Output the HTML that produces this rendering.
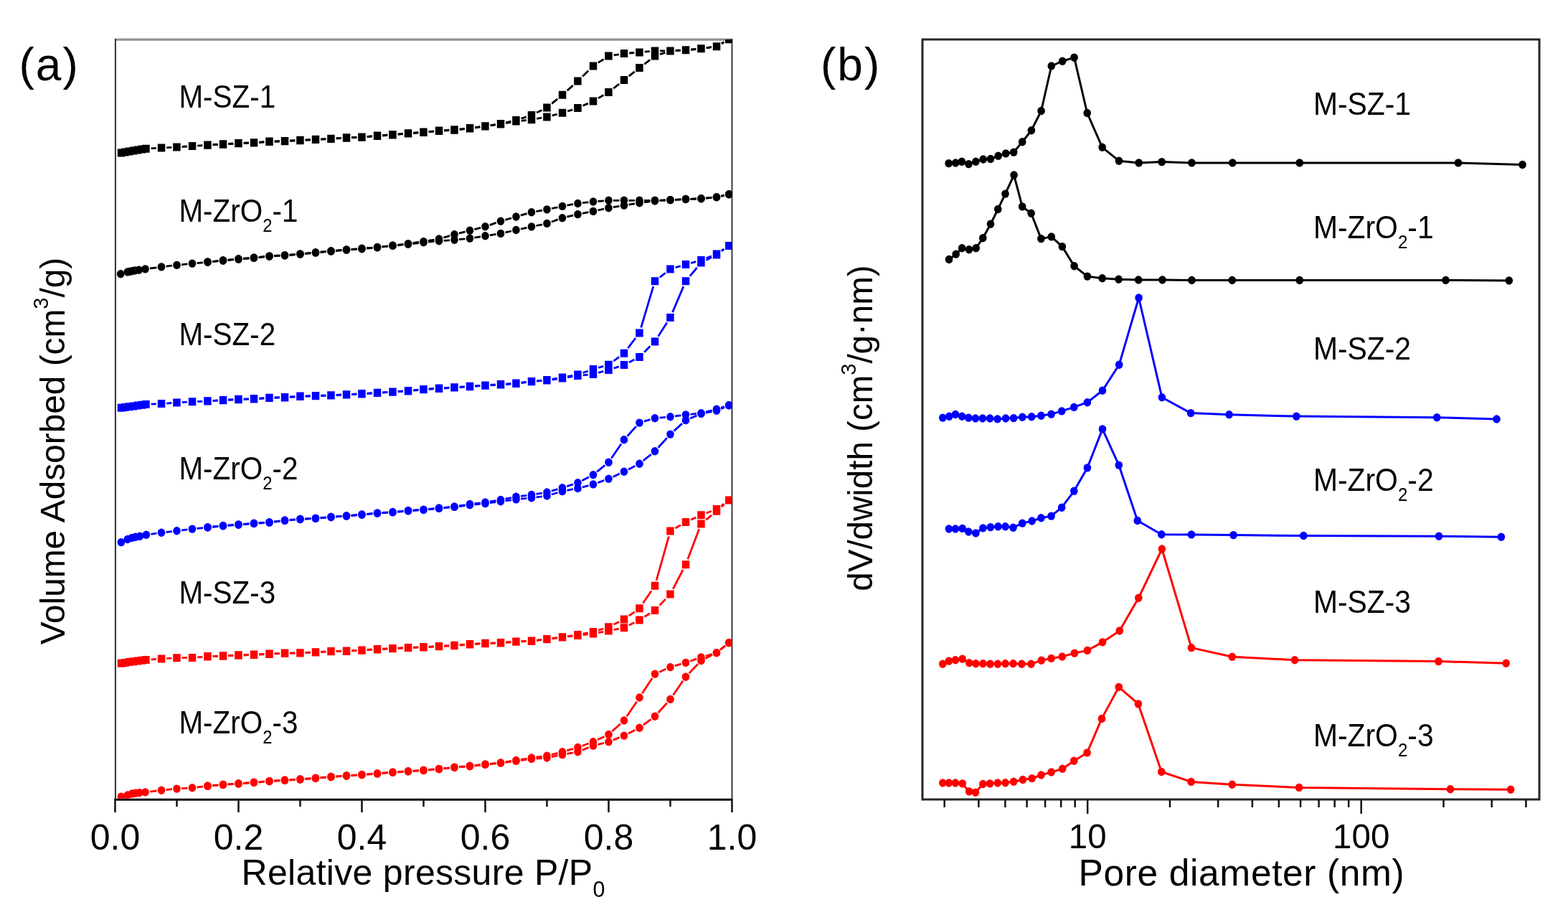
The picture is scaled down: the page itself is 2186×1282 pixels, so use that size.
<!DOCTYPE html>
<html><head><meta charset="utf-8"><title>Figure</title>
<style>html,body{margin:0;padding:0;background:#fff;}svg{display:block;}
text{font-family:"Liberation Sans", Arial, sans-serif;fill:#000;}</style></head>
<body>
<svg width="2186" height="1282" viewBox="0 0 2186 1282">
<rect width="2186" height="1282" fill="#fff"/>
<line x1="160.5" y1="55.2" x2="1020.5" y2="55.2" stroke="#929292" stroke-width="3.2"/>
<line x1="159.2" y1="55" x2="159.2" y2="1114" stroke="#e2e2e2" stroke-width="1"/>
<line x1="161.0" y1="54" x2="161.0" y2="1114" stroke="#3a3a3a" stroke-width="2"/>
<line x1="1020.5" y1="54" x2="1020.5" y2="1114" stroke="#3a3a3a" stroke-width="2"/>
<line x1="159.5" y1="1114.3" x2="1021.5" y2="1114.3" stroke="#0a0a0a" stroke-width="3"/>
<line x1="160.5" y1="1114" x2="160.5" y2="1132" stroke="#111" stroke-width="2.5"/>
<line x1="246.5" y1="1114" x2="246.5" y2="1124" stroke="#111" stroke-width="2.5"/>
<line x1="332.5" y1="1114" x2="332.5" y2="1132" stroke="#111" stroke-width="2.5"/>
<line x1="418.5" y1="1114" x2="418.5" y2="1124" stroke="#111" stroke-width="2.5"/>
<line x1="504.5" y1="1114" x2="504.5" y2="1132" stroke="#111" stroke-width="2.5"/>
<line x1="590.5" y1="1114" x2="590.5" y2="1124" stroke="#111" stroke-width="2.5"/>
<line x1="676.5" y1="1114" x2="676.5" y2="1132" stroke="#111" stroke-width="2.5"/>
<line x1="762.5" y1="1114" x2="762.5" y2="1124" stroke="#111" stroke-width="2.5"/>
<line x1="848.5" y1="1114" x2="848.5" y2="1132" stroke="#111" stroke-width="2.5"/>
<line x1="934.5" y1="1114" x2="934.5" y2="1124" stroke="#111" stroke-width="2.5"/>
<line x1="1020.5" y1="1114" x2="1020.5" y2="1132" stroke="#111" stroke-width="2.5"/>
<text x="160.5" y="1183.5" font-size="50" text-anchor="middle" >0.0</text>
<text x="332.5" y="1183.5" font-size="50" text-anchor="middle" >0.2</text>
<text x="504.5" y="1183.5" font-size="50" text-anchor="middle" >0.4</text>
<text x="676.5" y="1183.5" font-size="50" text-anchor="middle" >0.6</text>
<text x="848.5" y="1183.5" font-size="50" text-anchor="middle" >0.8</text>
<text x="1020.5" y="1183.5" font-size="50" text-anchor="middle" >1.0</text>
<text x="336.6" y="1232.5" font-size="50" text-anchor="start" letter-spacing="0.3">Relative pressure P/P<tspan font-size="30.5" dy="17">0</tspan></text>
<text transform="translate(90,898.3) rotate(-90)" font-size="47.8">Volume Adsorbed (cm<tspan font-size="29" dy="-23">3</tspan><tspan dy="23">/g)</tspan></text>
<text x="26.5" y="112" font-size="64" text-anchor="start" letter-spacing="2">(a)</text>
<rect x="1286" y="55" width="860" height="1059" fill="none" stroke="#262626" stroke-width="3"/>
<line x1="1316.7" y1="1114" x2="1316.7" y2="1125" stroke="#111" stroke-width="2.5"/>
<line x1="1364.4" y1="1114" x2="1364.4" y2="1125" stroke="#111" stroke-width="2.5"/>
<line x1="1401.4" y1="1114" x2="1401.4" y2="1125" stroke="#111" stroke-width="2.5"/>
<line x1="1431.6" y1="1114" x2="1431.6" y2="1125" stroke="#111" stroke-width="2.5"/>
<line x1="1457.1" y1="1114" x2="1457.1" y2="1125" stroke="#111" stroke-width="2.5"/>
<line x1="1479.2" y1="1114" x2="1479.2" y2="1125" stroke="#111" stroke-width="2.5"/>
<line x1="1498.7" y1="1114" x2="1498.7" y2="1125" stroke="#111" stroke-width="2.5"/>
<line x1="1516.2" y1="1114" x2="1516.2" y2="1134" stroke="#111" stroke-width="2.5"/>
<line x1="1631.0" y1="1114" x2="1631.0" y2="1125" stroke="#111" stroke-width="2.5"/>
<line x1="1698.2" y1="1114" x2="1698.2" y2="1125" stroke="#111" stroke-width="2.5"/>
<line x1="1745.9" y1="1114" x2="1745.9" y2="1125" stroke="#111" stroke-width="2.5"/>
<line x1="1782.9" y1="1114" x2="1782.9" y2="1125" stroke="#111" stroke-width="2.5"/>
<line x1="1813.1" y1="1114" x2="1813.1" y2="1125" stroke="#111" stroke-width="2.5"/>
<line x1="1838.6" y1="1114" x2="1838.6" y2="1125" stroke="#111" stroke-width="2.5"/>
<line x1="1860.7" y1="1114" x2="1860.7" y2="1125" stroke="#111" stroke-width="2.5"/>
<line x1="1880.2" y1="1114" x2="1880.2" y2="1125" stroke="#111" stroke-width="2.5"/>
<line x1="1897.7" y1="1114" x2="1897.7" y2="1134" stroke="#111" stroke-width="2.5"/>
<line x1="2012.5" y1="1114" x2="2012.5" y2="1125" stroke="#111" stroke-width="2.5"/>
<line x1="2079.7" y1="1114" x2="2079.7" y2="1125" stroke="#111" stroke-width="2.5"/>
<line x1="2127.4" y1="1114" x2="2127.4" y2="1125" stroke="#111" stroke-width="2.5"/>
<text x="1516.2" y="1182" font-size="47.5" text-anchor="middle" >10</text>
<text x="1897.7" y="1182" font-size="47.5" text-anchor="middle" >100</text>
<text x="1503.6" y="1233.8" font-size="51.5" text-anchor="start" letter-spacing="0.62">Pore diameter (nm)</text>
<text transform="translate(1216,823.7) rotate(-90)" font-size="47.5">dV/dwidth (cm<tspan font-size="29" dy="-23.5">3</tspan><tspan dy="23.5">/g·nm)</tspan></text>
<text x="1144" y="112" font-size="64" text-anchor="start" letter-spacing="2">(b)</text>
<defs><clipPath id="ca"><rect x="160.5" y="55" width="860.0" height="1057.8"/></clipPath><clipPath id="cb"><rect x="1286" y="55" width="860" height="1057.5"/></clipPath></defs>
<g clip-path="url(#ca)">
<path d="M210.7,206.9 L217.8,206.4 M232.2,205.6 L239.3,205.3 M253.7,204.5 L260.8,204.0 M275.2,203.2 L282.3,202.7 M296.7,201.9 L303.8,201.6 M318.2,200.7 L325.3,200.3 M339.7,199.6 L346.8,199.3 M361.2,198.6 L368.3,198.0 M382.7,197.3 L389.8,197.0 M404.2,196.4 L411.3,196.1 M425.7,195.3 L432.8,195.0 M447.2,194.3 L454.3,193.9 M468.7,193.1 L475.8,192.7 M490.2,191.9 L497.3,191.6 M511.7,190.7 L518.8,190.1 M533.2,189.0 L540.3,188.4 M554.7,187.3 L561.8,186.7 M576.2,185.6 L583.3,185.0 M597.7,183.8 L604.8,183.2 M619.2,182.1 L626.3,181.6 M640.7,180.5 L647.8,179.7 M662.2,178.0 L669.3,176.9 M683.7,174.9 L690.8,173.9 M705.2,171.6 L712.3,170.4 M726.7,168.3 L733.8,167.5 M748.2,165.4 L755.3,164.2 M769.7,161.0 L776.8,159.2 M791.2,155.0 L798.3,152.8 M812.6,147.3 L819.9,144.1 M834.0,136.9 L841.5,132.5 M855.3,123.1 L863.2,117.0 M876.8,106.2 L884.7,99.9 M898.3,89.3 L906.2,83.3 M920.1,75.7 L927.4,73.3 M941.7,70.5 L948.8,70.2 M963.2,69.1 L970.3,68.5 M984.7,66.8 L991.8,65.7 M1006.0,60.7 L1009.2,58.8" fill="none" stroke="#000" stroke-width="2.8"/>
<path d="M1009.2,58.8 L1006.0,60.7 M991.8,65.7 L984.7,66.8 M970.3,68.5 L963.2,69.1 M948.8,70.2 L941.7,70.5 M927.2,70.9 L920.2,70.9 M905.8,71.6 L898.7,72.2 M884.3,73.5 L877.2,74.0 M862.8,75.8 L855.7,76.9 M841.6,82.6 L833.9,87.4 M820.3,98.5 L812.2,106.5 M798.8,119.1 L790.7,126.2 M777.2,137.9 L769.3,144.4 M755.4,153.5 L748.1,157.0 M733.9,162.8 L726.6,165.2 M712.3,169.2 L705.2,170.9 M690.8,173.6 L683.7,174.6 M669.3,176.7 L662.2,177.6 M647.8,179.3 L640.7,180.1 M626.3,181.2 L619.2,181.7 M604.8,182.8 L597.7,183.4 M583.3,184.6 L576.2,185.2 M561.8,186.3 L554.7,186.9 M540.3,188.0 L533.2,188.6 M518.8,189.7 L511.7,190.3 M497.3,191.2 L490.2,191.5 M475.8,192.3 L468.7,192.7 M454.3,193.5 L447.2,193.9 M432.8,194.6 L425.7,194.9 M411.3,195.7 L404.2,196.0 M389.8,196.6 L382.7,196.9 M368.3,197.6 L361.2,198.2 M346.8,198.9 L339.7,199.2 M325.3,199.9 L318.2,200.3 M303.8,201.2 L296.7,201.5" fill="none" stroke="#000" stroke-width="2.8"/>
<path d="M163.8,207.5h10.5v11.0h-10.5zM169.2,206.5h10.5v11.0h-10.5zM174.8,205.5h10.5v11.0h-10.5zM180.8,204.5h10.5v11.0h-10.5zM186.8,203.5h10.5v11.0h-10.5zM192.8,202.6h10.5v11.0h-10.5zM198.2,201.8h10.5v11.0h-10.5zM219.8,200.5h10.5v11.0h-10.5zM241.2,199.4h10.5v11.0h-10.5zM262.8,198.1h10.5v11.0h-10.5zM284.2,196.8h10.5v11.0h-10.5zM305.8,195.7h10.5v11.0h-10.5zM327.2,194.3h10.5v11.0h-10.5zM348.8,193.6h10.5v11.0h-10.5zM370.2,192.0h10.5v11.0h-10.5zM391.8,191.3h10.5v11.0h-10.5zM413.2,190.2h10.5v11.0h-10.5zM434.8,189.1h10.5v11.0h-10.5zM456.2,188.1h10.5v11.0h-10.5zM477.8,186.7h10.5v11.0h-10.5zM499.2,185.8h10.5v11.0h-10.5zM520.8,184.0h10.5v11.0h-10.5zM542.2,182.4h10.5v11.0h-10.5zM563.8,180.6h10.5v11.0h-10.5zM585.2,179.0h10.5v11.0h-10.5zM606.8,177.0h10.5v11.0h-10.5zM628.2,175.7h10.5v11.0h-10.5zM649.8,173.5h10.5v11.0h-10.5zM671.2,170.4h10.5v11.0h-10.5zM692.8,167.4h10.5v11.0h-10.5zM714.2,163.6h10.5v11.0h-10.5zM735.8,161.2h10.5v11.0h-10.5zM757.2,157.4h10.5v11.0h-10.5zM778.8,151.8h10.5v11.0h-10.5zM800.2,145.0h10.5v11.0h-10.5zM821.8,135.4h10.5v11.0h-10.5zM843.2,123.0h10.5v11.0h-10.5zM864.8,106.1h10.5v11.0h-10.5zM886.2,89.0h10.5v11.0h-10.5zM907.8,72.6h10.5v11.0h-10.5zM929.2,65.4h10.5v11.0h-10.5zM950.8,64.3h10.5v11.0h-10.5zM972.2,62.3h10.5v11.0h-10.5zM993.8,59.2h10.5v11.0h-10.5zM1011.0,49.3h10.5v11.0h-10.5zM1011.0,49.3h10.5v11.0h-10.5zM993.8,59.2h10.5v11.0h-10.5zM972.2,62.3h10.5v11.0h-10.5zM950.8,64.3h10.5v11.0h-10.5zM929.2,65.4h10.5v11.0h-10.5zM907.8,65.4h10.5v11.0h-10.5zM886.2,67.4h10.5v11.0h-10.5zM864.8,69.1h10.5v11.0h-10.5zM843.2,72.6h10.5v11.0h-10.5zM821.8,86.4h10.5v11.0h-10.5zM800.2,107.6h10.5v11.0h-10.5zM778.8,126.7h10.5v11.0h-10.5zM757.2,144.6h10.5v11.0h-10.5zM735.8,154.9h10.5v11.0h-10.5zM714.2,162.1h10.5v11.0h-10.5zM692.8,167.0h10.5v11.0h-10.5zM671.2,170.2h10.5v11.0h-10.5zM649.8,173.1h10.5v11.0h-10.5zM628.2,175.3h10.5v11.0h-10.5zM606.8,176.6h10.5v11.0h-10.5zM585.2,178.6h10.5v11.0h-10.5zM563.8,180.2h10.5v11.0h-10.5zM542.2,182.0h10.5v11.0h-10.5zM520.8,183.6h10.5v11.0h-10.5zM499.2,185.4h10.5v11.0h-10.5zM477.8,186.3h10.5v11.0h-10.5zM456.2,187.7h10.5v11.0h-10.5zM434.8,188.7h10.5v11.0h-10.5zM413.2,189.8h10.5v11.0h-10.5zM391.8,190.9h10.5v11.0h-10.5zM370.2,191.6h10.5v11.0h-10.5zM348.8,193.2h10.5v11.0h-10.5zM327.2,193.9h10.5v11.0h-10.5zM305.8,195.3h10.5v11.0h-10.5zM284.2,196.4h10.5v11.0h-10.5z" fill="#000"/>
<path d="M209.0,374.0 L218.5,372.8 M231.6,371.1 L239.9,370.2 M253.1,368.8 L261.4,367.9 M274.6,366.7 L282.9,365.9 M296.1,364.7 L304.4,363.8 M317.6,362.6 L325.9,361.8 M339.1,360.6 L347.4,360.0 M360.6,358.8 L368.9,357.9 M382.1,356.9 L390.4,356.4 M403.6,355.5 L411.9,354.8 M425.1,353.6 L433.4,352.8 M446.6,351.5 L454.9,350.7 M468.1,349.5 L476.4,348.9 M489.6,347.8 L497.9,347.2 M511.1,346.1 L519.4,345.5 M532.6,344.1 L540.9,343.2 M554.1,341.8 L562.4,340.9 M575.6,339.5 L583.9,338.6 M597.1,337.2 L605.4,336.4 M618.6,335.3 L626.9,334.8 M640.1,333.7 L648.4,332.8 M661.5,331.2 L670.0,329.8 M683.0,327.8 L691.5,326.4 M704.5,323.9 L713.0,322.0 M726.0,319.1 L734.5,317.3 M747.5,314.5 L756.0,312.8 M768.8,309.2 L777.7,305.9 M790.4,302.2 L799.1,300.1 M812.0,297.3 L820.5,295.7 M833.5,293.0 L842.0,291.2 M855.0,288.7 L863.5,287.4 M876.5,285.2 L885.0,283.9 M898.1,281.9 L906.4,280.9 M919.6,279.6 L927.9,279.0 M941.1,278.3 L949.4,277.8 M962.6,277.3 L970.9,277.0 M984.1,276.2 L992.4,275.4 M1005.4,273.3 L1009.8,272.2" fill="none" stroke="#000" stroke-width="2.8"/>
<path d="M1009.8,272.2 L1005.4,273.3 M992.4,275.4 L984.1,276.2 M970.9,277.0 L962.6,277.3 M949.4,277.8 L941.1,278.3 M927.9,278.8 L919.6,279.1 M906.4,279.3 L898.1,279.3 M884.9,279.3 L876.6,279.3 M863.4,279.3 L855.1,279.3 M841.9,279.8 L833.6,280.5 M820.4,281.8 L812.1,282.7 M799.0,284.7 L790.5,286.2 M777.5,288.8 L769.0,290.5 M756.0,293.1 L747.5,294.6 M734.6,297.6 L725.9,300.2 M713.1,303.8 L704.4,306.4 M691.7,310.4 L682.8,313.6 M670.1,317.4 L661.4,319.7 M648.6,322.9 L639.9,325.2 M627.1,328.6 L618.4,331.2 M605.5,334.1 L597.0,335.5 M584.0,337.5 L575.5,338.7 M562.4,340.3 L554.1,341.3 M540.9,342.8 L532.6,343.7 M519.4,345.1 L511.1,345.7 M497.9,346.8 L489.6,347.4 M476.4,348.5 L468.1,349.1 M454.9,350.3 L446.6,351.1 M433.4,352.4 L425.1,353.2 M411.9,354.4 L403.6,355.1 M390.4,356.0 L382.1,356.5 M368.9,357.5 L360.6,358.4 M347.4,359.6 L339.1,360.2 M325.9,361.4 L317.6,362.2 M304.4,363.4 L296.1,364.3" fill="none" stroke="#000" stroke-width="2.8"/>
<ellipse cx="168.2" cy="381.8" rx="5.3" ry="5.7" fill="#000"/><ellipse cx="177.8" cy="379.0" rx="5.3" ry="5.7" fill="#000"/><ellipse cx="181.0" cy="378.4" rx="5.3" ry="5.7" fill="#000"/><ellipse cx="184.0" cy="377.6" rx="5.3" ry="5.7" fill="#000"/><ellipse cx="188.0" cy="377.0" rx="5.3" ry="5.7" fill="#000"/><ellipse cx="193.6" cy="376.3" rx="5.3" ry="5.7" fill="#000"/><ellipse cx="202.5" cy="374.9" rx="5.3" ry="5.7" fill="#000"/><ellipse cx="225.0" cy="371.9" rx="5.3" ry="5.7" fill="#000"/><ellipse cx="246.5" cy="369.4" rx="5.3" ry="5.7" fill="#000"/><ellipse cx="268.0" cy="367.3" rx="5.3" ry="5.7" fill="#000"/><ellipse cx="289.5" cy="365.3" rx="5.3" ry="5.7" fill="#000"/><ellipse cx="311.0" cy="363.2" rx="5.3" ry="5.7" fill="#000"/><ellipse cx="332.5" cy="361.2" rx="5.3" ry="5.7" fill="#000"/><ellipse cx="354.0" cy="359.4" rx="5.3" ry="5.7" fill="#000"/><ellipse cx="375.5" cy="357.3" rx="5.3" ry="5.7" fill="#000"/><ellipse cx="397.0" cy="356.0" rx="5.3" ry="5.7" fill="#000"/><ellipse cx="418.5" cy="354.3" rx="5.3" ry="5.7" fill="#000"/><ellipse cx="440.0" cy="352.1" rx="5.3" ry="5.7" fill="#000"/><ellipse cx="461.5" cy="350.1" rx="5.3" ry="5.7" fill="#000"/><ellipse cx="483.0" cy="348.3" rx="5.3" ry="5.7" fill="#000"/><ellipse cx="504.5" cy="346.7" rx="5.3" ry="5.7" fill="#000"/><ellipse cx="526.0" cy="344.9" rx="5.3" ry="5.7" fill="#000"/><ellipse cx="547.5" cy="342.4" rx="5.3" ry="5.7" fill="#000"/><ellipse cx="569.0" cy="340.3" rx="5.3" ry="5.7" fill="#000"/><ellipse cx="590.5" cy="337.8" rx="5.3" ry="5.7" fill="#000"/><ellipse cx="612.0" cy="335.8" rx="5.3" ry="5.7" fill="#000"/><ellipse cx="633.5" cy="334.3" rx="5.3" ry="5.7" fill="#000"/><ellipse cx="655.0" cy="332.2" rx="5.3" ry="5.7" fill="#000"/><ellipse cx="676.5" cy="328.8" rx="5.3" ry="5.7" fill="#000"/><ellipse cx="698.0" cy="325.4" rx="5.3" ry="5.7" fill="#000"/><ellipse cx="719.5" cy="320.5" rx="5.3" ry="5.7" fill="#000"/><ellipse cx="741.0" cy="315.9" rx="5.3" ry="5.7" fill="#000"/><ellipse cx="762.5" cy="311.4" rx="5.3" ry="5.7" fill="#000"/><ellipse cx="784.0" cy="303.7" rx="5.3" ry="5.7" fill="#000"/><ellipse cx="805.5" cy="298.6" rx="5.3" ry="5.7" fill="#000"/><ellipse cx="827.0" cy="294.4" rx="5.3" ry="5.7" fill="#000"/><ellipse cx="848.5" cy="289.8" rx="5.3" ry="5.7" fill="#000"/><ellipse cx="870.0" cy="286.3" rx="5.3" ry="5.7" fill="#000"/><ellipse cx="891.5" cy="282.8" rx="5.3" ry="5.7" fill="#000"/><ellipse cx="913.0" cy="280.0" rx="5.3" ry="5.7" fill="#000"/><ellipse cx="934.5" cy="278.6" rx="5.3" ry="5.7" fill="#000"/><ellipse cx="956.0" cy="277.5" rx="5.3" ry="5.7" fill="#000"/><ellipse cx="977.5" cy="276.8" rx="5.3" ry="5.7" fill="#000"/><ellipse cx="999.0" cy="274.8" rx="5.3" ry="5.7" fill="#000"/><ellipse cx="1016.2" cy="270.7" rx="5.3" ry="5.7" fill="#000"/><ellipse cx="1016.2" cy="270.7" rx="5.3" ry="5.7" fill="#000"/><ellipse cx="999.0" cy="274.8" rx="5.3" ry="5.7" fill="#000"/><ellipse cx="977.5" cy="276.8" rx="5.3" ry="5.7" fill="#000"/><ellipse cx="956.0" cy="277.5" rx="5.3" ry="5.7" fill="#000"/><ellipse cx="934.5" cy="278.6" rx="5.3" ry="5.7" fill="#000"/><ellipse cx="913.0" cy="279.3" rx="5.3" ry="5.7" fill="#000"/><ellipse cx="891.5" cy="279.3" rx="5.3" ry="5.7" fill="#000"/><ellipse cx="870.0" cy="279.3" rx="5.3" ry="5.7" fill="#000"/><ellipse cx="848.5" cy="279.3" rx="5.3" ry="5.7" fill="#000"/><ellipse cx="827.0" cy="281.0" rx="5.3" ry="5.7" fill="#000"/><ellipse cx="805.5" cy="283.5" rx="5.3" ry="5.7" fill="#000"/><ellipse cx="784.0" cy="287.4" rx="5.3" ry="5.7" fill="#000"/><ellipse cx="762.5" cy="291.9" rx="5.3" ry="5.7" fill="#000"/><ellipse cx="741.0" cy="295.8" rx="5.3" ry="5.7" fill="#000"/><ellipse cx="719.5" cy="302.0" rx="5.3" ry="5.7" fill="#000"/><ellipse cx="698.0" cy="308.2" rx="5.3" ry="5.7" fill="#000"/><ellipse cx="676.5" cy="315.8" rx="5.3" ry="5.7" fill="#000"/><ellipse cx="655.0" cy="321.3" rx="5.3" ry="5.7" fill="#000"/><ellipse cx="633.5" cy="326.8" rx="5.3" ry="5.7" fill="#000"/><ellipse cx="612.0" cy="333.0" rx="5.3" ry="5.7" fill="#000"/><ellipse cx="590.5" cy="336.6" rx="5.3" ry="5.7" fill="#000"/><ellipse cx="569.0" cy="339.6" rx="5.3" ry="5.7" fill="#000"/><ellipse cx="547.5" cy="342.0" rx="5.3" ry="5.7" fill="#000"/><ellipse cx="526.0" cy="344.5" rx="5.3" ry="5.7" fill="#000"/><ellipse cx="504.5" cy="346.3" rx="5.3" ry="5.7" fill="#000"/><ellipse cx="483.0" cy="347.9" rx="5.3" ry="5.7" fill="#000"/><ellipse cx="461.5" cy="349.7" rx="5.3" ry="5.7" fill="#000"/><ellipse cx="440.0" cy="351.7" rx="5.3" ry="5.7" fill="#000"/><ellipse cx="418.5" cy="353.9" rx="5.3" ry="5.7" fill="#000"/><ellipse cx="397.0" cy="355.6" rx="5.3" ry="5.7" fill="#000"/><ellipse cx="375.5" cy="356.9" rx="5.3" ry="5.7" fill="#000"/><ellipse cx="354.0" cy="359.0" rx="5.3" ry="5.7" fill="#000"/><ellipse cx="332.5" cy="360.8" rx="5.3" ry="5.7" fill="#000"/><ellipse cx="311.0" cy="362.8" rx="5.3" ry="5.7" fill="#000"/><ellipse cx="289.5" cy="364.9" rx="5.3" ry="5.7" fill="#000"/>
<path d="M210.7,563.2 L217.8,562.9 M232.2,562.1 L239.3,561.5 M253.7,560.6 L260.8,560.1 M275.2,559.5 L282.3,559.3 M296.7,558.7 L303.8,558.2 M318.2,557.4 L325.3,557.1 M339.7,556.5 L346.8,556.2 M361.2,555.5 L368.3,555.1 M382.7,554.4 L389.8,554.1 M404.2,553.4 L411.3,553.0 M425.7,552.3 L432.8,552.0 M447.2,551.6 L454.3,551.3 M468.7,550.8 L475.8,550.4 M490.2,549.7 L497.3,549.4 M511.7,548.5 L518.8,548.1 M533.2,547.2 L540.3,546.7 M554.7,545.8 L561.8,545.4 M576.2,544.2 L583.3,543.5 M597.7,542.4 L604.8,541.9 M619.2,541.0 L626.3,540.6 M640.7,539.6 L647.8,539.2 M662.2,538.2 L669.3,537.8 M683.7,536.9 L690.8,536.4 M705.2,535.5 L712.3,535.0 M726.7,533.6 L733.8,532.7 M748.2,531.2 L755.3,530.6 M769.7,529.0 L776.8,528.0 M791.2,525.8 L798.3,524.7 M812.7,522.8 L819.8,522.1 M834.2,519.4 L841.3,517.4 M855.7,513.1 L862.8,510.8 M877.0,504.9 L884.5,501.0 M898.2,490.7 L906.3,482.6 M917.6,468.7 L929.9,449.6 M937.6,435.1 L952.9,399.1 M961.9,384.8 L971.6,373.0 M984.5,362.4 L992.0,358.5 M1005.9,349.9 L1009.3,347.4" fill="none" stroke="#00f" stroke-width="2.8"/>
<path d="M1009.3,347.1 L1005.9,349.3 M991.9,356.8 L984.6,359.8 M970.3,364.6 L963.2,366.6 M948.8,370.7 L941.7,372.9 M927.7,380.3 L919.8,386.5 M910.8,399.2 L893.7,456.5 M886.1,471.0 L875.4,485.1 M863.1,497.3 L855.4,503.1 M841.3,510.3 L834.2,512.4 M819.9,517.0 L812.6,519.5 M798.3,523.3 L791.2,524.7 M776.8,527.2 L769.7,528.4 M755.3,530.2 L748.2,530.8 M733.8,532.3 L726.7,533.2 M712.3,534.6 L705.2,535.1 M690.8,536.0 L683.7,536.5 M669.3,537.4 L662.2,537.8 M647.8,538.8 L640.7,539.2 M626.3,540.2 L619.2,540.6 M604.8,541.5 L597.7,542.0 M583.3,543.1 L576.2,543.8 M561.8,545.0 L554.7,545.4 M540.3,546.3 L533.2,546.8 M518.8,547.7 L511.7,548.1 M497.3,549.0 L490.2,549.3 M475.8,550.0 L468.7,550.4 M454.3,550.9 L447.2,551.2 M432.8,551.6 L425.7,551.9 M411.3,552.6 L404.2,553.0 M389.8,553.7 L382.7,554.0 M368.3,554.7 L361.2,555.1 M346.8,555.8 L339.7,556.1 M325.3,556.7 L318.2,557.0 M303.8,557.8 L296.7,558.3" fill="none" stroke="#00f" stroke-width="2.8"/>
<path d="M163.8,562.8h10.5v11.0h-10.5zM169.2,562.0h10.5v11.0h-10.5zM174.8,561.2h10.5v11.0h-10.5zM180.8,560.4h10.5v11.0h-10.5zM186.8,559.6h10.5v11.0h-10.5zM192.8,558.8h10.5v11.0h-10.5zM198.2,558.0h10.5v11.0h-10.5zM219.8,557.1h10.5v11.0h-10.5zM241.2,555.5h10.5v11.0h-10.5zM262.8,554.2h10.5v11.0h-10.5zM284.2,553.6h10.5v11.0h-10.5zM305.8,552.3h10.5v11.0h-10.5zM327.2,551.2h10.5v11.0h-10.5zM348.8,550.5h10.5v11.0h-10.5zM370.2,549.1h10.5v11.0h-10.5zM391.8,548.4h10.5v11.0h-10.5zM413.2,547.0h10.5v11.0h-10.5zM434.8,546.3h10.5v11.0h-10.5zM456.2,545.6h10.5v11.0h-10.5zM477.8,544.6h10.5v11.0h-10.5zM499.2,543.5h10.5v11.0h-10.5zM520.8,542.1h10.5v11.0h-10.5zM542.2,540.8h10.5v11.0h-10.5zM563.8,539.4h10.5v11.0h-10.5zM585.2,537.3h10.5v11.0h-10.5zM606.8,536.0h10.5v11.0h-10.5zM628.2,534.6h10.5v11.0h-10.5zM649.8,533.2h10.5v11.0h-10.5zM671.2,531.8h10.5v11.0h-10.5zM692.8,530.5h10.5v11.0h-10.5zM714.2,529.0h10.5v11.0h-10.5zM735.8,526.3h10.5v11.0h-10.5zM757.2,524.5h10.5v11.0h-10.5zM778.8,521.5h10.5v11.0h-10.5zM800.2,518.0h10.5v11.0h-10.5zM821.8,515.9h10.5v11.0h-10.5zM843.2,509.9h10.5v11.0h-10.5zM864.8,503.0h10.5v11.0h-10.5zM886.2,491.9h10.5v11.0h-10.5zM907.8,470.4h10.5v11.0h-10.5zM929.2,436.9h10.5v11.0h-10.5zM950.8,386.3h10.5v11.0h-10.5zM972.2,360.5h10.5v11.0h-10.5zM993.8,349.4h10.5v11.0h-10.5zM1011.0,336.9h10.5v11.0h-10.5zM1011.0,336.9h10.5v11.0h-10.5zM993.8,348.5h10.5v11.0h-10.5zM972.2,357.1h10.5v11.0h-10.5zM950.8,363.1h10.5v11.0h-10.5zM929.2,369.5h10.5v11.0h-10.5zM907.8,386.3h10.5v11.0h-10.5zM886.2,458.4h10.5v11.0h-10.5zM864.8,486.7h10.5v11.0h-10.5zM843.2,502.7h10.5v11.0h-10.5zM821.8,509.0h10.5v11.0h-10.5zM800.2,516.5h10.5v11.0h-10.5zM778.8,520.5h10.5v11.0h-10.5zM757.2,524.1h10.5v11.0h-10.5zM735.8,525.9h10.5v11.0h-10.5zM714.2,528.6h10.5v11.0h-10.5zM692.8,530.1h10.5v11.0h-10.5zM671.2,531.4h10.5v11.0h-10.5zM649.8,532.8h10.5v11.0h-10.5zM628.2,534.2h10.5v11.0h-10.5zM606.8,535.6h10.5v11.0h-10.5zM585.2,536.9h10.5v11.0h-10.5zM563.8,539.0h10.5v11.0h-10.5zM542.2,540.4h10.5v11.0h-10.5zM520.8,541.7h10.5v11.0h-10.5zM499.2,543.1h10.5v11.0h-10.5zM477.8,544.2h10.5v11.0h-10.5zM456.2,545.2h10.5v11.0h-10.5zM434.8,545.9h10.5v11.0h-10.5zM413.2,546.6h10.5v11.0h-10.5zM391.8,548.0h10.5v11.0h-10.5zM370.2,548.7h10.5v11.0h-10.5zM348.8,550.1h10.5v11.0h-10.5zM327.2,550.8h10.5v11.0h-10.5zM305.8,551.9h10.5v11.0h-10.5zM284.2,553.2h10.5v11.0h-10.5z" fill="#00f"/>
<path d="M210.4,744.4 L218.5,743.2 M231.6,741.5 L239.9,740.6 M253.1,739.0 L261.4,737.9 M274.6,736.5 L282.9,735.6 M296.1,734.4 L304.4,733.5 M317.6,732.4 L325.9,731.8 M339.1,730.7 L347.4,730.1 M360.6,729.1 L368.9,728.5 M382.1,727.3 L390.4,726.2 M403.6,724.8 L411.9,724.2 M425.1,723.3 L433.4,722.8 M446.6,721.9 L454.9,721.3 M468.1,720.2 L476.4,719.6 M489.6,718.5 L497.9,717.9 M511.1,716.7 L519.4,715.9 M532.6,714.9 L540.9,714.3 M554.1,713.3 L562.4,712.5 M575.6,711.5 L583.9,710.9 M597.1,709.9 L605.4,709.0 M618.6,707.8 L626.9,707.0 M640.1,705.5 L648.4,704.5 M661.6,703.0 L669.9,702.2 M683.1,700.7 L691.4,699.7 M704.5,697.9 L713.0,696.8 M726.1,695.2 L734.4,694.4 M747.6,692.8 L755.9,691.8 M768.9,689.0 L777.6,686.5 M790.5,683.4 L799.0,681.7 M811.9,678.8 L820.6,676.6 M833.3,672.7 L842.2,669.4 M854.5,664.4 L864.0,660.0 M876.0,654.2 L885.5,649.3 M896.7,642.0 L907.8,633.1 M917.6,623.8 L929.9,610.1 M939.5,600.6 L951.0,590.1 M962.1,583.0 L971.4,579.1 M984.0,575.2 L992.5,573.6 M1005.1,569.6 L1010.1,567.4" fill="none" stroke="#00f" stroke-width="2.8"/>
<path d="M1009.9,566.7 L1005.3,568.2 M992.6,571.9 L983.9,574.1 M970.9,576.4 L962.6,577.3 M949.4,578.8 L941.1,579.8 M927.9,581.3 L919.6,582.2 M906.6,584.7 L897.9,587.2 M886.9,594.1 L874.6,607.8 M866.1,618.5 L852.4,638.5 M843.3,648.4 L832.2,657.4 M821.1,664.7 L811.4,669.7 M799.2,674.9 L790.3,677.7 M777.6,681.6 L768.9,684.2 M756.0,687.1 L747.5,688.4 M734.4,690.4 L726.1,691.4 M713.0,693.6 L704.5,695.2 M691.5,697.6 L683.0,698.9 M669.9,700.8 L661.6,701.7 M648.5,703.6 L640.0,704.9 M626.9,706.6 L618.6,707.4 M605.4,708.6 L597.1,709.5 M583.9,710.5 L575.6,711.1 M562.4,712.1 L554.1,712.9 M540.9,713.9 L532.6,714.5 M519.4,715.5 L511.1,716.3 M497.9,717.5 L489.6,718.1 M476.4,719.2 L468.1,719.8 M454.9,720.9 L446.6,721.5 M433.4,722.4 L425.1,722.9 M411.9,723.8 L403.6,724.4 M390.4,725.8 L382.1,726.9 M368.9,728.1 L360.6,728.7 M347.4,729.7 L339.1,730.3 M325.9,731.4 L317.6,732.0 M304.4,733.1 L296.1,734.0" fill="none" stroke="#00f" stroke-width="2.8"/>
<ellipse cx="168.9" cy="755.6" rx="5.3" ry="5.7" fill="#00f"/><ellipse cx="177.8" cy="751.5" rx="5.3" ry="5.7" fill="#00f"/><ellipse cx="184.0" cy="749.4" rx="5.3" ry="5.7" fill="#00f"/><ellipse cx="189.0" cy="748.3" rx="5.3" ry="5.7" fill="#00f"/><ellipse cx="195.0" cy="747.3" rx="5.3" ry="5.7" fill="#00f"/><ellipse cx="203.9" cy="745.3" rx="5.3" ry="5.7" fill="#00f"/><ellipse cx="225.0" cy="742.3" rx="5.3" ry="5.7" fill="#00f"/><ellipse cx="246.5" cy="739.8" rx="5.3" ry="5.7" fill="#00f"/><ellipse cx="268.0" cy="737.1" rx="5.3" ry="5.7" fill="#00f"/><ellipse cx="289.5" cy="735.0" rx="5.3" ry="5.7" fill="#00f"/><ellipse cx="311.0" cy="732.9" rx="5.3" ry="5.7" fill="#00f"/><ellipse cx="332.5" cy="731.3" rx="5.3" ry="5.7" fill="#00f"/><ellipse cx="354.0" cy="729.5" rx="5.3" ry="5.7" fill="#00f"/><ellipse cx="375.5" cy="728.1" rx="5.3" ry="5.7" fill="#00f"/><ellipse cx="397.0" cy="725.4" rx="5.3" ry="5.7" fill="#00f"/><ellipse cx="418.5" cy="723.6" rx="5.3" ry="5.7" fill="#00f"/><ellipse cx="440.0" cy="722.5" rx="5.3" ry="5.7" fill="#00f"/><ellipse cx="461.5" cy="720.7" rx="5.3" ry="5.7" fill="#00f"/><ellipse cx="483.0" cy="719.1" rx="5.3" ry="5.7" fill="#00f"/><ellipse cx="504.5" cy="717.3" rx="5.3" ry="5.7" fill="#00f"/><ellipse cx="526.0" cy="715.3" rx="5.3" ry="5.7" fill="#00f"/><ellipse cx="547.5" cy="713.9" rx="5.3" ry="5.7" fill="#00f"/><ellipse cx="569.0" cy="711.9" rx="5.3" ry="5.7" fill="#00f"/><ellipse cx="590.5" cy="710.5" rx="5.3" ry="5.7" fill="#00f"/><ellipse cx="612.0" cy="708.4" rx="5.3" ry="5.7" fill="#00f"/><ellipse cx="633.5" cy="706.4" rx="5.3" ry="5.7" fill="#00f"/><ellipse cx="655.0" cy="703.6" rx="5.3" ry="5.7" fill="#00f"/><ellipse cx="676.5" cy="701.6" rx="5.3" ry="5.7" fill="#00f"/><ellipse cx="698.0" cy="698.8" rx="5.3" ry="5.7" fill="#00f"/><ellipse cx="719.5" cy="695.9" rx="5.3" ry="5.7" fill="#00f"/><ellipse cx="741.0" cy="693.7" rx="5.3" ry="5.7" fill="#00f"/><ellipse cx="762.5" cy="690.9" rx="5.3" ry="5.7" fill="#00f"/><ellipse cx="784.0" cy="684.6" rx="5.3" ry="5.7" fill="#00f"/><ellipse cx="805.5" cy="680.5" rx="5.3" ry="5.7" fill="#00f"/><ellipse cx="827.0" cy="674.9" rx="5.3" ry="5.7" fill="#00f"/><ellipse cx="848.5" cy="667.2" rx="5.3" ry="5.7" fill="#00f"/><ellipse cx="870.0" cy="657.2" rx="5.3" ry="5.7" fill="#00f"/><ellipse cx="891.5" cy="646.3" rx="5.3" ry="5.7" fill="#00f"/><ellipse cx="913.0" cy="628.8" rx="5.3" ry="5.7" fill="#00f"/><ellipse cx="934.5" cy="605.1" rx="5.3" ry="5.7" fill="#00f"/><ellipse cx="956.0" cy="585.6" rx="5.3" ry="5.7" fill="#00f"/><ellipse cx="977.5" cy="576.5" rx="5.3" ry="5.7" fill="#00f"/><ellipse cx="999.0" cy="572.3" rx="5.3" ry="5.7" fill="#00f"/><ellipse cx="1016.2" cy="564.7" rx="5.3" ry="5.7" fill="#00f"/><ellipse cx="1016.2" cy="564.7" rx="5.3" ry="5.7" fill="#00f"/><ellipse cx="999.0" cy="570.2" rx="5.3" ry="5.7" fill="#00f"/><ellipse cx="977.5" cy="575.8" rx="5.3" ry="5.7" fill="#00f"/><ellipse cx="956.0" cy="577.9" rx="5.3" ry="5.7" fill="#00f"/><ellipse cx="934.5" cy="580.7" rx="5.3" ry="5.7" fill="#00f"/><ellipse cx="913.0" cy="582.8" rx="5.3" ry="5.7" fill="#00f"/><ellipse cx="891.5" cy="589.1" rx="5.3" ry="5.7" fill="#00f"/><ellipse cx="870.0" cy="612.8" rx="5.3" ry="5.7" fill="#00f"/><ellipse cx="848.5" cy="644.2" rx="5.3" ry="5.7" fill="#00f"/><ellipse cx="827.0" cy="661.6" rx="5.3" ry="5.7" fill="#00f"/><ellipse cx="805.5" cy="672.8" rx="5.3" ry="5.7" fill="#00f"/><ellipse cx="784.0" cy="679.8" rx="5.3" ry="5.7" fill="#00f"/><ellipse cx="762.5" cy="686.0" rx="5.3" ry="5.7" fill="#00f"/><ellipse cx="741.0" cy="689.5" rx="5.3" ry="5.7" fill="#00f"/><ellipse cx="719.5" cy="692.3" rx="5.3" ry="5.7" fill="#00f"/><ellipse cx="698.0" cy="696.5" rx="5.3" ry="5.7" fill="#00f"/><ellipse cx="676.5" cy="700.0" rx="5.3" ry="5.7" fill="#00f"/><ellipse cx="655.0" cy="702.5" rx="5.3" ry="5.7" fill="#00f"/><ellipse cx="633.5" cy="706.0" rx="5.3" ry="5.7" fill="#00f"/><ellipse cx="612.0" cy="708.0" rx="5.3" ry="5.7" fill="#00f"/><ellipse cx="590.5" cy="710.1" rx="5.3" ry="5.7" fill="#00f"/><ellipse cx="569.0" cy="711.5" rx="5.3" ry="5.7" fill="#00f"/><ellipse cx="547.5" cy="713.5" rx="5.3" ry="5.7" fill="#00f"/><ellipse cx="526.0" cy="714.9" rx="5.3" ry="5.7" fill="#00f"/><ellipse cx="504.5" cy="716.9" rx="5.3" ry="5.7" fill="#00f"/><ellipse cx="483.0" cy="718.7" rx="5.3" ry="5.7" fill="#00f"/><ellipse cx="461.5" cy="720.3" rx="5.3" ry="5.7" fill="#00f"/><ellipse cx="440.0" cy="722.1" rx="5.3" ry="5.7" fill="#00f"/><ellipse cx="418.5" cy="723.2" rx="5.3" ry="5.7" fill="#00f"/><ellipse cx="397.0" cy="725.0" rx="5.3" ry="5.7" fill="#00f"/><ellipse cx="375.5" cy="727.7" rx="5.3" ry="5.7" fill="#00f"/><ellipse cx="354.0" cy="729.1" rx="5.3" ry="5.7" fill="#00f"/><ellipse cx="332.5" cy="730.9" rx="5.3" ry="5.7" fill="#00f"/><ellipse cx="311.0" cy="732.5" rx="5.3" ry="5.7" fill="#00f"/><ellipse cx="289.5" cy="734.6" rx="5.3" ry="5.7" fill="#00f"/>
<path d="M210.7,918.9 L217.8,918.5 M232.2,917.6 L239.3,917.1 M253.7,916.6 L260.8,916.5 M275.2,915.9 L282.3,915.5 M296.7,914.7 L303.8,914.5 M318.2,913.9 L325.3,913.5 M339.7,913.0 L346.8,912.7 M361.2,912.1 L368.3,911.8 M382.7,911.1 L389.8,910.8 M404.2,910.4 L411.3,910.2 M425.7,909.8 L432.8,909.4 M447.2,908.7 L454.3,908.2 M468.7,907.7 L475.8,907.5 M490.2,907.0 L497.3,906.7 M511.7,905.8 L518.8,905.4 M533.2,904.5 L540.3,904.2 M554.7,903.5 L561.8,903.1 M576.2,902.5 L583.3,902.2 M597.7,901.5 L604.8,901.2 M619.2,900.4 L626.3,900.1 M640.7,899.1 L647.8,898.6 M662.2,897.6 L669.3,897.1 M683.7,896.5 L690.8,896.2 M705.2,895.4 L712.3,894.9 M726.7,894.0 L733.8,893.7 M748.2,892.5 L755.3,891.7 M769.7,889.9 L776.8,889.0 M791.2,887.2 L798.3,886.3 M812.7,884.6 L819.8,883.8 M834.2,881.7 L841.3,880.4 M855.7,877.6 L862.8,876.2 M877.0,871.2 L884.5,867.4 M898.4,859.5 L906.1,854.8 M919.6,843.5 L927.9,834.9 M938.3,820.7 L952.2,794.0 M958.8,779.3 L974.7,737.3 M984.3,724.3 L992.2,717.9 M1005.7,706.3 L1009.5,703.0" fill="none" stroke="#f00" stroke-width="2.8"/>
<path d="M1009.3,702.0 L1005.9,704.6 M991.9,712.3 L984.6,715.0 M970.4,720.9 L963.1,724.3 M949.0,731.6 L941.5,736.0 M932.4,747.5 L915.1,808.9 M908.1,823.5 L896.4,840.5 M884.6,852.6 L876.9,858.1 M863.0,866.5 L855.5,870.3 M841.3,876.0 L834.2,878.3 M819.8,881.8 L812.7,883.2 M798.3,885.6 L791.2,886.6 M776.8,888.6 L769.7,889.5 M755.3,891.3 L748.2,892.1 M733.8,893.3 L726.7,893.6 M712.3,894.5 L705.2,895.0 M690.8,895.8 L683.7,896.1 M669.3,896.7 L662.2,897.2 M647.8,898.2 L640.7,898.7 M626.3,899.7 L619.2,900.0 M604.8,900.8 L597.7,901.1 M583.3,901.8 L576.2,902.1 M561.8,902.7 L554.7,903.1 M540.3,903.8 L533.2,904.1 M518.8,905.0 L511.7,905.4 M497.3,906.3 L490.2,906.6 M475.8,907.1 L468.7,907.3 M454.3,907.8 L447.2,908.3 M432.8,909.0 L425.7,909.4 M411.3,909.8 L404.2,910.0 M389.8,910.4 L382.7,910.7 M368.3,911.4 L361.2,911.7 M346.8,912.3 L339.7,912.6 M325.3,913.1 L318.2,913.5 M303.8,914.1 L296.7,914.3" fill="none" stroke="#f00" stroke-width="2.8"/>
<path d="M163.8,918.7h10.5v11.0h-10.5zM169.2,917.9h10.5v11.0h-10.5zM174.8,917.1h10.5v11.0h-10.5zM180.8,916.3h10.5v11.0h-10.5zM186.8,915.5h10.5v11.0h-10.5zM192.8,914.7h10.5v11.0h-10.5zM198.2,913.9h10.5v11.0h-10.5zM219.8,912.5h10.5v11.0h-10.5zM241.2,911.2h10.5v11.0h-10.5zM262.8,910.9h10.5v11.0h-10.5zM284.2,909.5h10.5v11.0h-10.5zM305.8,908.7h10.5v11.0h-10.5zM327.2,907.7h10.5v11.0h-10.5zM348.8,907.0h10.5v11.0h-10.5zM370.2,905.9h10.5v11.0h-10.5zM391.8,905.0h10.5v11.0h-10.5zM413.2,904.6h10.5v11.0h-10.5zM434.8,903.6h10.5v11.0h-10.5zM456.2,902.3h10.5v11.0h-10.5zM477.8,901.9h10.5v11.0h-10.5zM499.2,900.8h10.5v11.0h-10.5zM520.8,899.4h10.5v11.0h-10.5zM542.2,898.3h10.5v11.0h-10.5zM563.8,897.3h10.5v11.0h-10.5zM585.2,896.4h10.5v11.0h-10.5zM606.8,895.3h10.5v11.0h-10.5zM628.2,894.2h10.5v11.0h-10.5zM649.8,892.5h10.5v11.0h-10.5zM671.2,891.2h10.5v11.0h-10.5zM692.8,890.5h10.5v11.0h-10.5zM714.2,888.8h10.5v11.0h-10.5zM735.8,887.9h10.5v11.0h-10.5zM757.2,885.3h10.5v11.0h-10.5zM778.8,882.6h10.5v11.0h-10.5zM800.2,879.9h10.5v11.0h-10.5zM821.8,877.5h10.5v11.0h-10.5zM843.2,873.6h10.5v11.0h-10.5zM864.8,869.2h10.5v11.0h-10.5zM886.2,858.4h10.5v11.0h-10.5zM907.8,844.9h10.5v11.0h-10.5zM929.2,822.5h10.5v11.0h-10.5zM950.8,781.2h10.5v11.0h-10.5zM972.2,724.4h10.5v11.0h-10.5zM993.8,706.8h10.5v11.0h-10.5zM1011.0,691.5h10.5v11.0h-10.5zM1011.0,691.5h10.5v11.0h-10.5zM993.8,704.1h10.5v11.0h-10.5zM972.2,712.2h10.5v11.0h-10.5zM950.8,722.0h10.5v11.0h-10.5zM929.2,734.6h10.5v11.0h-10.5zM907.8,810.8h10.5v11.0h-10.5zM886.2,842.2h10.5v11.0h-10.5zM864.8,857.5h10.5v11.0h-10.5zM843.2,868.3h10.5v11.0h-10.5zM821.8,875.0h10.5v11.0h-10.5zM800.2,879.0h10.5v11.0h-10.5zM778.8,882.2h10.5v11.0h-10.5zM757.2,884.9h10.5v11.0h-10.5zM735.8,887.5h10.5v11.0h-10.5zM714.2,888.4h10.5v11.0h-10.5zM692.8,890.1h10.5v11.0h-10.5zM671.2,890.8h10.5v11.0h-10.5zM649.8,892.1h10.5v11.0h-10.5zM628.2,893.8h10.5v11.0h-10.5zM606.8,894.9h10.5v11.0h-10.5zM585.2,896.0h10.5v11.0h-10.5zM563.8,896.9h10.5v11.0h-10.5zM542.2,897.9h10.5v11.0h-10.5zM520.8,899.0h10.5v11.0h-10.5zM499.2,900.4h10.5v11.0h-10.5zM477.8,901.5h10.5v11.0h-10.5zM456.2,901.9h10.5v11.0h-10.5zM434.8,903.2h10.5v11.0h-10.5zM413.2,904.2h10.5v11.0h-10.5zM391.8,904.6h10.5v11.0h-10.5zM370.2,905.5h10.5v11.0h-10.5zM348.8,906.6h10.5v11.0h-10.5zM327.2,907.3h10.5v11.0h-10.5zM305.8,908.3h10.5v11.0h-10.5zM284.2,909.1h10.5v11.0h-10.5z" fill="#f00"/>
<path d="M209.1,1103.1 L218.4,1102.0 M231.6,1100.6 L239.9,1099.7 M253.1,1098.7 L261.4,1098.1 M274.6,1097.0 L282.9,1096.1 M296.1,1094.8 L304.4,1094.2 M317.6,1093.2 L325.9,1092.6 M339.1,1091.7 L347.4,1091.0 M360.6,1090.0 L368.9,1089.3 M382.1,1088.4 L390.4,1087.8 M403.6,1087.0 L411.9,1086.5 M425.1,1085.6 L433.4,1085.0 M446.6,1083.9 L454.9,1083.3 M468.1,1082.2 L476.4,1081.7 M489.6,1080.8 L497.9,1080.2 M511.1,1079.3 L519.4,1078.6 M532.6,1077.6 L540.9,1076.9 M554.1,1076.0 L562.4,1075.4 M575.6,1074.6 L583.9,1074.0 M597.1,1073.0 L605.4,1072.4 M618.6,1071.1 L626.9,1070.2 M640.1,1068.9 L648.4,1068.3 M661.6,1067.0 L669.9,1066.1 M683.1,1064.8 L691.4,1063.9 M704.5,1062.4 L713.0,1061.3 M726.0,1059.5 L734.5,1058.4 M747.6,1057.0 L755.9,1056.5 M769.0,1054.7 L777.5,1052.9 M790.5,1050.4 L799.0,1048.9 M811.7,1045.2 L820.8,1041.6 M833.4,1037.5 L842.1,1035.3 M854.7,1031.2 L863.8,1027.6 M876.0,1022.1 L885.5,1017.2 M896.9,1010.2 L907.6,1002.3 M917.6,993.2 L929.9,979.5 M938.4,968.8 L952.1,948.8 M960.7,938.3 L972.8,925.5 M983.4,917.6 L993.1,912.6 M1004.2,905.3 L1011.0,899.9" fill="none" stroke="#f00" stroke-width="2.8"/>
<path d="M1011.0,899.9 L1004.2,905.3 M992.6,911.5 L983.9,914.0 M971.2,918.1 L962.3,921.2 M949.6,925.2 L940.9,927.8 M928.4,932.3 L919.1,936.6 M909.2,945.0 L895.3,966.3 M887.7,977.7 L873.8,998.3 M865.0,1008.5 L853.5,1019.0 M842.5,1026.4 L833.0,1030.8 M820.8,1036.0 L811.7,1039.2 M799.1,1043.3 L790.4,1045.9 M777.6,1049.3 L768.9,1051.6 M755.9,1054.1 L747.6,1055.1 M734.5,1057.1 L726.0,1058.4 M713.0,1060.5 L704.5,1061.9 M691.4,1063.5 L683.1,1064.4 M669.9,1065.7 L661.6,1066.6 M648.4,1067.9 L640.1,1068.5 M626.9,1069.8 L618.6,1070.7 M605.4,1072.0 L597.1,1072.6 M583.9,1073.6 L575.6,1074.2 M562.4,1075.0 L554.1,1075.6 M540.9,1076.5 L532.6,1077.2 M519.4,1078.2 L511.1,1078.9 M497.9,1079.8 L489.6,1080.4 M476.4,1081.3 L468.1,1081.8 M454.9,1082.9 L446.6,1083.5 M433.4,1084.6 L425.1,1085.2 M411.9,1086.1 L403.6,1086.6 M390.4,1087.4 L382.1,1088.0 M368.9,1088.9 L360.6,1089.6 M347.4,1090.6 L339.1,1091.3 M325.9,1092.2 L317.6,1092.8 M304.4,1093.8 L296.1,1094.4" fill="none" stroke="#f00" stroke-width="2.8"/>
<ellipse cx="168.9" cy="1110.1" rx="5.3" ry="5.7" fill="#f00"/><ellipse cx="177.8" cy="1108.0" rx="5.3" ry="5.7" fill="#f00"/><ellipse cx="184.0" cy="1106.0" rx="5.3" ry="5.7" fill="#f00"/><ellipse cx="189.0" cy="1105.3" rx="5.3" ry="5.7" fill="#f00"/><ellipse cx="194.3" cy="1104.6" rx="5.3" ry="5.7" fill="#f00"/><ellipse cx="202.5" cy="1103.9" rx="5.3" ry="5.7" fill="#f00"/><ellipse cx="225.0" cy="1101.2" rx="5.3" ry="5.7" fill="#f00"/><ellipse cx="246.5" cy="1099.1" rx="5.3" ry="5.7" fill="#f00"/><ellipse cx="268.0" cy="1097.7" rx="5.3" ry="5.7" fill="#f00"/><ellipse cx="289.5" cy="1095.4" rx="5.3" ry="5.7" fill="#f00"/><ellipse cx="311.0" cy="1093.6" rx="5.3" ry="5.7" fill="#f00"/><ellipse cx="332.5" cy="1092.2" rx="5.3" ry="5.7" fill="#f00"/><ellipse cx="354.0" cy="1090.5" rx="5.3" ry="5.7" fill="#f00"/><ellipse cx="375.5" cy="1088.8" rx="5.3" ry="5.7" fill="#f00"/><ellipse cx="397.0" cy="1087.4" rx="5.3" ry="5.7" fill="#f00"/><ellipse cx="418.5" cy="1086.1" rx="5.3" ry="5.7" fill="#f00"/><ellipse cx="440.0" cy="1084.5" rx="5.3" ry="5.7" fill="#f00"/><ellipse cx="461.5" cy="1082.7" rx="5.3" ry="5.7" fill="#f00"/><ellipse cx="483.0" cy="1081.2" rx="5.3" ry="5.7" fill="#f00"/><ellipse cx="504.5" cy="1079.8" rx="5.3" ry="5.7" fill="#f00"/><ellipse cx="526.0" cy="1078.1" rx="5.3" ry="5.7" fill="#f00"/><ellipse cx="547.5" cy="1076.4" rx="5.3" ry="5.7" fill="#f00"/><ellipse cx="569.0" cy="1075.0" rx="5.3" ry="5.7" fill="#f00"/><ellipse cx="590.5" cy="1073.6" rx="5.3" ry="5.7" fill="#f00"/><ellipse cx="612.0" cy="1071.8" rx="5.3" ry="5.7" fill="#f00"/><ellipse cx="633.5" cy="1069.5" rx="5.3" ry="5.7" fill="#f00"/><ellipse cx="655.0" cy="1067.7" rx="5.3" ry="5.7" fill="#f00"/><ellipse cx="676.5" cy="1065.4" rx="5.3" ry="5.7" fill="#f00"/><ellipse cx="698.0" cy="1063.3" rx="5.3" ry="5.7" fill="#f00"/><ellipse cx="719.5" cy="1060.4" rx="5.3" ry="5.7" fill="#f00"/><ellipse cx="741.0" cy="1057.5" rx="5.3" ry="5.7" fill="#f00"/><ellipse cx="762.5" cy="1056.0" rx="5.3" ry="5.7" fill="#f00"/><ellipse cx="784.0" cy="1051.6" rx="5.3" ry="5.7" fill="#f00"/><ellipse cx="805.5" cy="1047.7" rx="5.3" ry="5.7" fill="#f00"/><ellipse cx="827.0" cy="1039.1" rx="5.3" ry="5.7" fill="#f00"/><ellipse cx="848.5" cy="1033.7" rx="5.3" ry="5.7" fill="#f00"/><ellipse cx="870.0" cy="1025.1" rx="5.3" ry="5.7" fill="#f00"/><ellipse cx="891.5" cy="1014.2" rx="5.3" ry="5.7" fill="#f00"/><ellipse cx="913.0" cy="998.3" rx="5.3" ry="5.7" fill="#f00"/><ellipse cx="934.5" cy="974.4" rx="5.3" ry="5.7" fill="#f00"/><ellipse cx="956.0" cy="943.2" rx="5.3" ry="5.7" fill="#f00"/><ellipse cx="977.5" cy="920.6" rx="5.3" ry="5.7" fill="#f00"/><ellipse cx="999.0" cy="909.6" rx="5.3" ry="5.7" fill="#f00"/><ellipse cx="1016.2" cy="895.6" rx="5.3" ry="5.7" fill="#f00"/><ellipse cx="1016.2" cy="895.6" rx="5.3" ry="5.7" fill="#f00"/><ellipse cx="999.0" cy="909.6" rx="5.3" ry="5.7" fill="#f00"/><ellipse cx="977.5" cy="915.9" rx="5.3" ry="5.7" fill="#f00"/><ellipse cx="956.0" cy="923.4" rx="5.3" ry="5.7" fill="#f00"/><ellipse cx="934.5" cy="929.6" rx="5.3" ry="5.7" fill="#f00"/><ellipse cx="913.0" cy="939.3" rx="5.3" ry="5.7" fill="#f00"/><ellipse cx="891.5" cy="972.0" rx="5.3" ry="5.7" fill="#f00"/><ellipse cx="870.0" cy="1004.0" rx="5.3" ry="5.7" fill="#f00"/><ellipse cx="848.5" cy="1023.5" rx="5.3" ry="5.7" fill="#f00"/><ellipse cx="827.0" cy="1033.7" rx="5.3" ry="5.7" fill="#f00"/><ellipse cx="805.5" cy="1041.5" rx="5.3" ry="5.7" fill="#f00"/><ellipse cx="784.0" cy="1047.7" rx="5.3" ry="5.7" fill="#f00"/><ellipse cx="762.5" cy="1053.2" rx="5.3" ry="5.7" fill="#f00"/><ellipse cx="741.0" cy="1056.0" rx="5.3" ry="5.7" fill="#f00"/><ellipse cx="719.5" cy="1059.5" rx="5.3" ry="5.7" fill="#f00"/><ellipse cx="698.0" cy="1062.9" rx="5.3" ry="5.7" fill="#f00"/><ellipse cx="676.5" cy="1065.0" rx="5.3" ry="5.7" fill="#f00"/><ellipse cx="655.0" cy="1067.3" rx="5.3" ry="5.7" fill="#f00"/><ellipse cx="633.5" cy="1069.1" rx="5.3" ry="5.7" fill="#f00"/><ellipse cx="612.0" cy="1071.4" rx="5.3" ry="5.7" fill="#f00"/><ellipse cx="590.5" cy="1073.2" rx="5.3" ry="5.7" fill="#f00"/><ellipse cx="569.0" cy="1074.6" rx="5.3" ry="5.7" fill="#f00"/><ellipse cx="547.5" cy="1076.0" rx="5.3" ry="5.7" fill="#f00"/><ellipse cx="526.0" cy="1077.7" rx="5.3" ry="5.7" fill="#f00"/><ellipse cx="504.5" cy="1079.4" rx="5.3" ry="5.7" fill="#f00"/><ellipse cx="483.0" cy="1080.8" rx="5.3" ry="5.7" fill="#f00"/><ellipse cx="461.5" cy="1082.3" rx="5.3" ry="5.7" fill="#f00"/><ellipse cx="440.0" cy="1084.1" rx="5.3" ry="5.7" fill="#f00"/><ellipse cx="418.5" cy="1085.7" rx="5.3" ry="5.7" fill="#f00"/><ellipse cx="397.0" cy="1087.0" rx="5.3" ry="5.7" fill="#f00"/><ellipse cx="375.5" cy="1088.4" rx="5.3" ry="5.7" fill="#f00"/><ellipse cx="354.0" cy="1090.1" rx="5.3" ry="5.7" fill="#f00"/><ellipse cx="332.5" cy="1091.8" rx="5.3" ry="5.7" fill="#f00"/><ellipse cx="311.0" cy="1093.2" rx="5.3" ry="5.7" fill="#f00"/><ellipse cx="289.5" cy="1095.0" rx="5.3" ry="5.7" fill="#f00"/>
</g>
<g clip-path="url(#cb)">
<path d="M1322.6,227.6 L1332.2,227.0 L1340.9,225.2 L1350.5,228.6 L1360.4,225.2 L1370.7,222.0 L1381.0,221.5 L1391.7,217.3 L1402.2,213.9 L1413.2,212.1 L1425.2,197.7 L1437.9,181.7 L1451.6,154.5 L1465.8,92.0 L1481.2,85.2 L1497.6,80.1 L1515.7,157.5 L1536.7,205.3 L1560.0,224.2 L1587.7,226.9 L1619.7,225.6 L1661.5,226.9 L1718.3,226.9 L1811.8,226.9 L2032.9,226.9 L2122.5,229.5" fill="none" stroke="#000" stroke-width="3.0" stroke-linejoin="round"/>
<ellipse cx="1322.6" cy="227.6" rx="5.3" ry="5.7" fill="#000"/><ellipse cx="1332.2" cy="227.0" rx="5.3" ry="5.7" fill="#000"/><ellipse cx="1340.9" cy="225.2" rx="5.3" ry="5.7" fill="#000"/><ellipse cx="1350.5" cy="228.6" rx="5.3" ry="5.7" fill="#000"/><ellipse cx="1360.4" cy="225.2" rx="5.3" ry="5.7" fill="#000"/><ellipse cx="1370.7" cy="222.0" rx="5.3" ry="5.7" fill="#000"/><ellipse cx="1381.0" cy="221.5" rx="5.3" ry="5.7" fill="#000"/><ellipse cx="1391.7" cy="217.3" rx="5.3" ry="5.7" fill="#000"/><ellipse cx="1402.2" cy="213.9" rx="5.3" ry="5.7" fill="#000"/><ellipse cx="1413.2" cy="212.1" rx="5.3" ry="5.7" fill="#000"/><ellipse cx="1425.2" cy="197.7" rx="5.3" ry="5.7" fill="#000"/><ellipse cx="1437.9" cy="181.7" rx="5.3" ry="5.7" fill="#000"/><ellipse cx="1451.6" cy="154.5" rx="5.3" ry="5.7" fill="#000"/><ellipse cx="1465.8" cy="92.0" rx="5.3" ry="5.7" fill="#000"/><ellipse cx="1481.2" cy="85.2" rx="5.3" ry="5.7" fill="#000"/><ellipse cx="1497.6" cy="80.1" rx="5.3" ry="5.7" fill="#000"/><ellipse cx="1515.7" cy="157.5" rx="5.3" ry="5.7" fill="#000"/><ellipse cx="1536.7" cy="205.3" rx="5.3" ry="5.7" fill="#000"/><ellipse cx="1560.0" cy="224.2" rx="5.3" ry="5.7" fill="#000"/><ellipse cx="1587.7" cy="226.9" rx="5.3" ry="5.7" fill="#000"/><ellipse cx="1619.7" cy="225.6" rx="5.3" ry="5.7" fill="#000"/><ellipse cx="1661.5" cy="226.9" rx="5.3" ry="5.7" fill="#000"/><ellipse cx="1718.3" cy="226.9" rx="5.3" ry="5.7" fill="#000"/><ellipse cx="1811.8" cy="226.9" rx="5.3" ry="5.7" fill="#000"/><ellipse cx="2032.9" cy="226.9" rx="5.3" ry="5.7" fill="#000"/><ellipse cx="2122.5" cy="229.5" rx="5.3" ry="5.7" fill="#000"/>
<path d="M1323.1,361.5 L1332.7,354.2 L1341.2,345.7 L1351.0,347.7 L1360.7,345.7 L1370.3,331.8 L1381.0,312.3 L1391.3,291.5 L1401.5,270.1 L1413.6,244.0 L1425.2,287.9 L1437.6,297.2 L1451.4,332.6 L1465.8,329.9 L1480.9,343.6 L1497.6,370.7 L1515.9,385.1 L1536.7,387.8 L1559.6,389.2 L1587.2,390.0 L1620.5,390.0 L1661.5,390.5 L1717.8,390.5 L1811.8,390.5 L2015.5,390.5 L2103.8,391.0" fill="none" stroke="#000" stroke-width="3.0" stroke-linejoin="round"/>
<ellipse cx="1323.1" cy="361.5" rx="5.3" ry="5.7" fill="#000"/><ellipse cx="1332.7" cy="354.2" rx="5.3" ry="5.7" fill="#000"/><ellipse cx="1341.2" cy="345.7" rx="5.3" ry="5.7" fill="#000"/><ellipse cx="1351.0" cy="347.7" rx="5.3" ry="5.7" fill="#000"/><ellipse cx="1360.7" cy="345.7" rx="5.3" ry="5.7" fill="#000"/><ellipse cx="1370.3" cy="331.8" rx="5.3" ry="5.7" fill="#000"/><ellipse cx="1381.0" cy="312.3" rx="5.3" ry="5.7" fill="#000"/><ellipse cx="1391.3" cy="291.5" rx="5.3" ry="5.7" fill="#000"/><ellipse cx="1401.5" cy="270.1" rx="5.3" ry="5.7" fill="#000"/><ellipse cx="1413.6" cy="244.0" rx="5.3" ry="5.7" fill="#000"/><ellipse cx="1425.2" cy="287.9" rx="5.3" ry="5.7" fill="#000"/><ellipse cx="1437.6" cy="297.2" rx="5.3" ry="5.7" fill="#000"/><ellipse cx="1451.4" cy="332.6" rx="5.3" ry="5.7" fill="#000"/><ellipse cx="1465.8" cy="329.9" rx="5.3" ry="5.7" fill="#000"/><ellipse cx="1480.9" cy="343.6" rx="5.3" ry="5.7" fill="#000"/><ellipse cx="1497.6" cy="370.7" rx="5.3" ry="5.7" fill="#000"/><ellipse cx="1515.9" cy="385.1" rx="5.3" ry="5.7" fill="#000"/><ellipse cx="1536.7" cy="387.8" rx="5.3" ry="5.7" fill="#000"/><ellipse cx="1559.6" cy="389.2" rx="5.3" ry="5.7" fill="#000"/><ellipse cx="1587.2" cy="390.0" rx="5.3" ry="5.7" fill="#000"/><ellipse cx="1620.5" cy="390.0" rx="5.3" ry="5.7" fill="#000"/><ellipse cx="1661.5" cy="390.5" rx="5.3" ry="5.7" fill="#000"/><ellipse cx="1717.8" cy="390.5" rx="5.3" ry="5.7" fill="#000"/><ellipse cx="1811.8" cy="390.5" rx="5.3" ry="5.7" fill="#000"/><ellipse cx="2015.5" cy="390.5" rx="5.3" ry="5.7" fill="#000"/><ellipse cx="2103.8" cy="391.0" rx="5.3" ry="5.7" fill="#000"/>
<path d="M1314.3,582.1 L1323.4,580.2 L1332.0,577.5 L1341.2,580.2 L1350.3,582.1 L1360.0,583.0 L1369.9,583.0 L1380.1,583.0 L1390.6,583.9 L1402.1,583.0 L1413.1,582.6 L1425.3,581.2 L1438.2,580.8 L1451.5,579.3 L1465.6,577.1 L1480.2,572.9 L1497.3,567.4 L1515.9,560.7 L1537.0,544.2 L1560.2,508.3 L1587.6,415.0 L1619.9,553.7 L1660.1,575.6 L1713.6,577.8 L1807.4,580.1 L2003.2,581.7 L2086.5,584.0" fill="none" stroke="#00f" stroke-width="3.0" stroke-linejoin="round"/>
<ellipse cx="1314.3" cy="582.1" rx="5.3" ry="5.7" fill="#00f"/><ellipse cx="1323.4" cy="580.2" rx="5.3" ry="5.7" fill="#00f"/><ellipse cx="1332.0" cy="577.5" rx="5.3" ry="5.7" fill="#00f"/><ellipse cx="1341.2" cy="580.2" rx="5.3" ry="5.7" fill="#00f"/><ellipse cx="1350.3" cy="582.1" rx="5.3" ry="5.7" fill="#00f"/><ellipse cx="1360.0" cy="583.0" rx="5.3" ry="5.7" fill="#00f"/><ellipse cx="1369.9" cy="583.0" rx="5.3" ry="5.7" fill="#00f"/><ellipse cx="1380.1" cy="583.0" rx="5.3" ry="5.7" fill="#00f"/><ellipse cx="1390.6" cy="583.9" rx="5.3" ry="5.7" fill="#00f"/><ellipse cx="1402.1" cy="583.0" rx="5.3" ry="5.7" fill="#00f"/><ellipse cx="1413.1" cy="582.6" rx="5.3" ry="5.7" fill="#00f"/><ellipse cx="1425.3" cy="581.2" rx="5.3" ry="5.7" fill="#00f"/><ellipse cx="1438.2" cy="580.8" rx="5.3" ry="5.7" fill="#00f"/><ellipse cx="1451.5" cy="579.3" rx="5.3" ry="5.7" fill="#00f"/><ellipse cx="1465.6" cy="577.1" rx="5.3" ry="5.7" fill="#00f"/><ellipse cx="1480.2" cy="572.9" rx="5.3" ry="5.7" fill="#00f"/><ellipse cx="1497.3" cy="567.4" rx="5.3" ry="5.7" fill="#00f"/><ellipse cx="1515.9" cy="560.7" rx="5.3" ry="5.7" fill="#00f"/><ellipse cx="1537.0" cy="544.2" rx="5.3" ry="5.7" fill="#00f"/><ellipse cx="1560.2" cy="508.3" rx="5.3" ry="5.7" fill="#00f"/><ellipse cx="1587.6" cy="415.0" rx="5.3" ry="5.7" fill="#00f"/><ellipse cx="1619.9" cy="553.7" rx="5.3" ry="5.7" fill="#00f"/><ellipse cx="1660.1" cy="575.6" rx="5.3" ry="5.7" fill="#00f"/><ellipse cx="1713.6" cy="577.8" rx="5.3" ry="5.7" fill="#00f"/><ellipse cx="1807.4" cy="580.1" rx="5.3" ry="5.7" fill="#00f"/><ellipse cx="2003.2" cy="581.7" rx="5.3" ry="5.7" fill="#00f"/><ellipse cx="2086.5" cy="584.0" rx="5.3" ry="5.7" fill="#00f"/>
<path d="M1322.9,737.0 L1332.0,737.0 L1341.7,736.4 L1350.3,741.0 L1360.4,742.9 L1370.4,735.9 L1380.9,734.6 L1391.5,733.7 L1401.6,733.7 L1412.5,735.2 L1425.3,729.1 L1438.7,726.0 L1451.5,721.8 L1465.6,719.1 L1480.2,707.2 L1497.3,684.3 L1515.9,651.9 L1537.0,597.9 L1559.8,648.1 L1585.8,725.5 L1619.3,744.7 L1661.0,744.9 L1719.6,745.6 L1817.3,746.5 L2006.0,747.2 L2092.9,748.3" fill="none" stroke="#00f" stroke-width="3.0" stroke-linejoin="round"/>
<ellipse cx="1322.9" cy="737.0" rx="5.3" ry="5.7" fill="#00f"/><ellipse cx="1332.0" cy="737.0" rx="5.3" ry="5.7" fill="#00f"/><ellipse cx="1341.7" cy="736.4" rx="5.3" ry="5.7" fill="#00f"/><ellipse cx="1350.3" cy="741.0" rx="5.3" ry="5.7" fill="#00f"/><ellipse cx="1360.4" cy="742.9" rx="5.3" ry="5.7" fill="#00f"/><ellipse cx="1370.4" cy="735.9" rx="5.3" ry="5.7" fill="#00f"/><ellipse cx="1380.9" cy="734.6" rx="5.3" ry="5.7" fill="#00f"/><ellipse cx="1391.5" cy="733.7" rx="5.3" ry="5.7" fill="#00f"/><ellipse cx="1401.6" cy="733.7" rx="5.3" ry="5.7" fill="#00f"/><ellipse cx="1412.5" cy="735.2" rx="5.3" ry="5.7" fill="#00f"/><ellipse cx="1425.3" cy="729.1" rx="5.3" ry="5.7" fill="#00f"/><ellipse cx="1438.7" cy="726.0" rx="5.3" ry="5.7" fill="#00f"/><ellipse cx="1451.5" cy="721.8" rx="5.3" ry="5.7" fill="#00f"/><ellipse cx="1465.6" cy="719.1" rx="5.3" ry="5.7" fill="#00f"/><ellipse cx="1480.2" cy="707.2" rx="5.3" ry="5.7" fill="#00f"/><ellipse cx="1497.3" cy="684.3" rx="5.3" ry="5.7" fill="#00f"/><ellipse cx="1515.9" cy="651.9" rx="5.3" ry="5.7" fill="#00f"/><ellipse cx="1537.0" cy="597.9" rx="5.3" ry="5.7" fill="#00f"/><ellipse cx="1559.8" cy="648.1" rx="5.3" ry="5.7" fill="#00f"/><ellipse cx="1585.8" cy="725.5" rx="5.3" ry="5.7" fill="#00f"/><ellipse cx="1619.3" cy="744.7" rx="5.3" ry="5.7" fill="#00f"/><ellipse cx="1661.0" cy="744.9" rx="5.3" ry="5.7" fill="#00f"/><ellipse cx="1719.6" cy="745.6" rx="5.3" ry="5.7" fill="#00f"/><ellipse cx="1817.3" cy="746.5" rx="5.3" ry="5.7" fill="#00f"/><ellipse cx="2006.0" cy="747.2" rx="5.3" ry="5.7" fill="#00f"/><ellipse cx="2092.9" cy="748.3" rx="5.3" ry="5.7" fill="#00f"/>
<path d="M1314.3,925.3 L1322.9,921.1 L1332.0,919.8 L1341.7,918.3 L1351.2,923.8 L1360.4,924.7 L1370.4,924.7 L1380.5,925.3 L1390.9,925.3 L1401.6,924.7 L1412.5,924.7 L1424.4,925.3 L1437.6,925.3 L1451.9,920.2 L1465.6,917.4 L1480.8,915.0 L1498.0,910.1 L1515.9,906.4 L1537.0,894.9 L1560.8,879.0 L1587.3,833.3 L1619.9,765.0 L1661.0,902.6 L1717.8,915.2 L1805.1,919.7 L2005.5,921.6 L2099.7,924.3" fill="none" stroke="#f00" stroke-width="3.0" stroke-linejoin="round"/>
<ellipse cx="1314.3" cy="925.3" rx="5.3" ry="5.7" fill="#f00"/><ellipse cx="1322.9" cy="921.1" rx="5.3" ry="5.7" fill="#f00"/><ellipse cx="1332.0" cy="919.8" rx="5.3" ry="5.7" fill="#f00"/><ellipse cx="1341.7" cy="918.3" rx="5.3" ry="5.7" fill="#f00"/><ellipse cx="1351.2" cy="923.8" rx="5.3" ry="5.7" fill="#f00"/><ellipse cx="1360.4" cy="924.7" rx="5.3" ry="5.7" fill="#f00"/><ellipse cx="1370.4" cy="924.7" rx="5.3" ry="5.7" fill="#f00"/><ellipse cx="1380.5" cy="925.3" rx="5.3" ry="5.7" fill="#f00"/><ellipse cx="1390.9" cy="925.3" rx="5.3" ry="5.7" fill="#f00"/><ellipse cx="1401.6" cy="924.7" rx="5.3" ry="5.7" fill="#f00"/><ellipse cx="1412.5" cy="924.7" rx="5.3" ry="5.7" fill="#f00"/><ellipse cx="1424.4" cy="925.3" rx="5.3" ry="5.7" fill="#f00"/><ellipse cx="1437.6" cy="925.3" rx="5.3" ry="5.7" fill="#f00"/><ellipse cx="1451.9" cy="920.2" rx="5.3" ry="5.7" fill="#f00"/><ellipse cx="1465.6" cy="917.4" rx="5.3" ry="5.7" fill="#f00"/><ellipse cx="1480.8" cy="915.0" rx="5.3" ry="5.7" fill="#f00"/><ellipse cx="1498.0" cy="910.1" rx="5.3" ry="5.7" fill="#f00"/><ellipse cx="1515.9" cy="906.4" rx="5.3" ry="5.7" fill="#f00"/><ellipse cx="1537.0" cy="894.9" rx="5.3" ry="5.7" fill="#f00"/><ellipse cx="1560.8" cy="879.0" rx="5.3" ry="5.7" fill="#f00"/><ellipse cx="1587.3" cy="833.3" rx="5.3" ry="5.7" fill="#f00"/><ellipse cx="1619.9" cy="765.0" rx="5.3" ry="5.7" fill="#f00"/><ellipse cx="1661.0" cy="902.6" rx="5.3" ry="5.7" fill="#f00"/><ellipse cx="1717.8" cy="915.2" rx="5.3" ry="5.7" fill="#f00"/><ellipse cx="1805.1" cy="919.7" rx="5.3" ry="5.7" fill="#f00"/><ellipse cx="2005.5" cy="921.6" rx="5.3" ry="5.7" fill="#f00"/><ellipse cx="2099.7" cy="924.3" rx="5.3" ry="5.7" fill="#f00"/>
<path d="M1314.3,1091.0 L1322.9,1091.0 L1332.0,1091.0 L1341.7,1091.9 L1351.2,1102.9 L1360.0,1104.2 L1370.4,1092.5 L1380.1,1091.9 L1390.9,1091.0 L1401.6,1090.7 L1413.1,1089.2 L1425.9,1086.5 L1438.7,1084.6 L1451.5,1080.0 L1465.6,1076.0 L1481.2,1071.3 L1497.3,1060.3 L1515.6,1048.9 L1536.0,1001.4 L1559.8,957.4 L1586.9,980.9 L1619.3,1075.5 L1660.6,1089.4 L1717.8,1093.3 L1811.1,1097.4 L2022.0,1099.7 L2106.1,1100.2" fill="none" stroke="#f00" stroke-width="3.0" stroke-linejoin="round"/>
<ellipse cx="1314.3" cy="1091.0" rx="5.3" ry="5.7" fill="#f00"/><ellipse cx="1322.9" cy="1091.0" rx="5.3" ry="5.7" fill="#f00"/><ellipse cx="1332.0" cy="1091.0" rx="5.3" ry="5.7" fill="#f00"/><ellipse cx="1341.7" cy="1091.9" rx="5.3" ry="5.7" fill="#f00"/><ellipse cx="1351.2" cy="1102.9" rx="5.3" ry="5.7" fill="#f00"/><ellipse cx="1360.0" cy="1104.2" rx="5.3" ry="5.7" fill="#f00"/><ellipse cx="1370.4" cy="1092.5" rx="5.3" ry="5.7" fill="#f00"/><ellipse cx="1380.1" cy="1091.9" rx="5.3" ry="5.7" fill="#f00"/><ellipse cx="1390.9" cy="1091.0" rx="5.3" ry="5.7" fill="#f00"/><ellipse cx="1401.6" cy="1090.7" rx="5.3" ry="5.7" fill="#f00"/><ellipse cx="1413.1" cy="1089.2" rx="5.3" ry="5.7" fill="#f00"/><ellipse cx="1425.9" cy="1086.5" rx="5.3" ry="5.7" fill="#f00"/><ellipse cx="1438.7" cy="1084.6" rx="5.3" ry="5.7" fill="#f00"/><ellipse cx="1451.5" cy="1080.0" rx="5.3" ry="5.7" fill="#f00"/><ellipse cx="1465.6" cy="1076.0" rx="5.3" ry="5.7" fill="#f00"/><ellipse cx="1481.2" cy="1071.3" rx="5.3" ry="5.7" fill="#f00"/><ellipse cx="1497.3" cy="1060.3" rx="5.3" ry="5.7" fill="#f00"/><ellipse cx="1515.6" cy="1048.9" rx="5.3" ry="5.7" fill="#f00"/><ellipse cx="1536.0" cy="1001.4" rx="5.3" ry="5.7" fill="#f00"/><ellipse cx="1559.8" cy="957.4" rx="5.3" ry="5.7" fill="#f00"/><ellipse cx="1586.9" cy="980.9" rx="5.3" ry="5.7" fill="#f00"/><ellipse cx="1619.3" cy="1075.5" rx="5.3" ry="5.7" fill="#f00"/><ellipse cx="1660.6" cy="1089.4" rx="5.3" ry="5.7" fill="#f00"/><ellipse cx="1717.8" cy="1093.3" rx="5.3" ry="5.7" fill="#f00"/><ellipse cx="1811.1" cy="1097.4" rx="5.3" ry="5.7" fill="#f00"/><ellipse cx="2022.0" cy="1099.7" rx="5.3" ry="5.7" fill="#f00"/><ellipse cx="2106.1" cy="1100.2" rx="5.3" ry="5.7" fill="#f00"/>
</g>
<text transform="translate(249.4,150) scale(0.975,1.08)" font-size="41.5">M-SZ-1</text>
<text transform="translate(249.4,309.3) scale(0.975,1.08)" font-size="41.5">M-ZrO<tspan font-size="24.5" dy="13">2</tspan><tspan dy="-13">-1</tspan></text>
<text transform="translate(249.4,481.2) scale(0.975,1.08)" font-size="41.5">M-SZ-2</text>
<text transform="translate(249.4,667.5) scale(0.975,1.08)" font-size="41.5">M-ZrO<tspan font-size="24.5" dy="13">2</tspan><tspan dy="-13">-2</tspan></text>
<text transform="translate(249.4,841.2) scale(0.975,1.08)" font-size="41.5">M-SZ-3</text>
<text transform="translate(249.4,1022.2) scale(0.975,1.08)" font-size="41.5">M-ZrO<tspan font-size="24.5" dy="13">2</tspan><tspan dy="-13">-3</tspan></text>
<text transform="translate(1830.9,160.2) scale(0.985,1.08)" font-size="41.5">M-SZ-1</text>
<text transform="translate(1830.9,331.9) scale(0.985,1.08)" font-size="41.5">M-ZrO<tspan font-size="24.5" dy="13">2</tspan><tspan dy="-13">-1</tspan></text>
<text transform="translate(1830.9,500.7) scale(0.985,1.08)" font-size="41.5">M-SZ-2</text>
<text transform="translate(1830.9,684) scale(0.985,1.08)" font-size="41.5">M-ZrO<tspan font-size="24.5" dy="13">2</tspan><tspan dy="-13">-2</tspan></text>
<text transform="translate(1830.9,853.7) scale(0.985,1.08)" font-size="41.5">M-SZ-3</text>
<text transform="translate(1830.9,1040.3) scale(0.985,1.08)" font-size="41.5">M-ZrO<tspan font-size="24.5" dy="13">2</tspan><tspan dy="-13">-3</tspan></text>
</svg>
</body></html>
